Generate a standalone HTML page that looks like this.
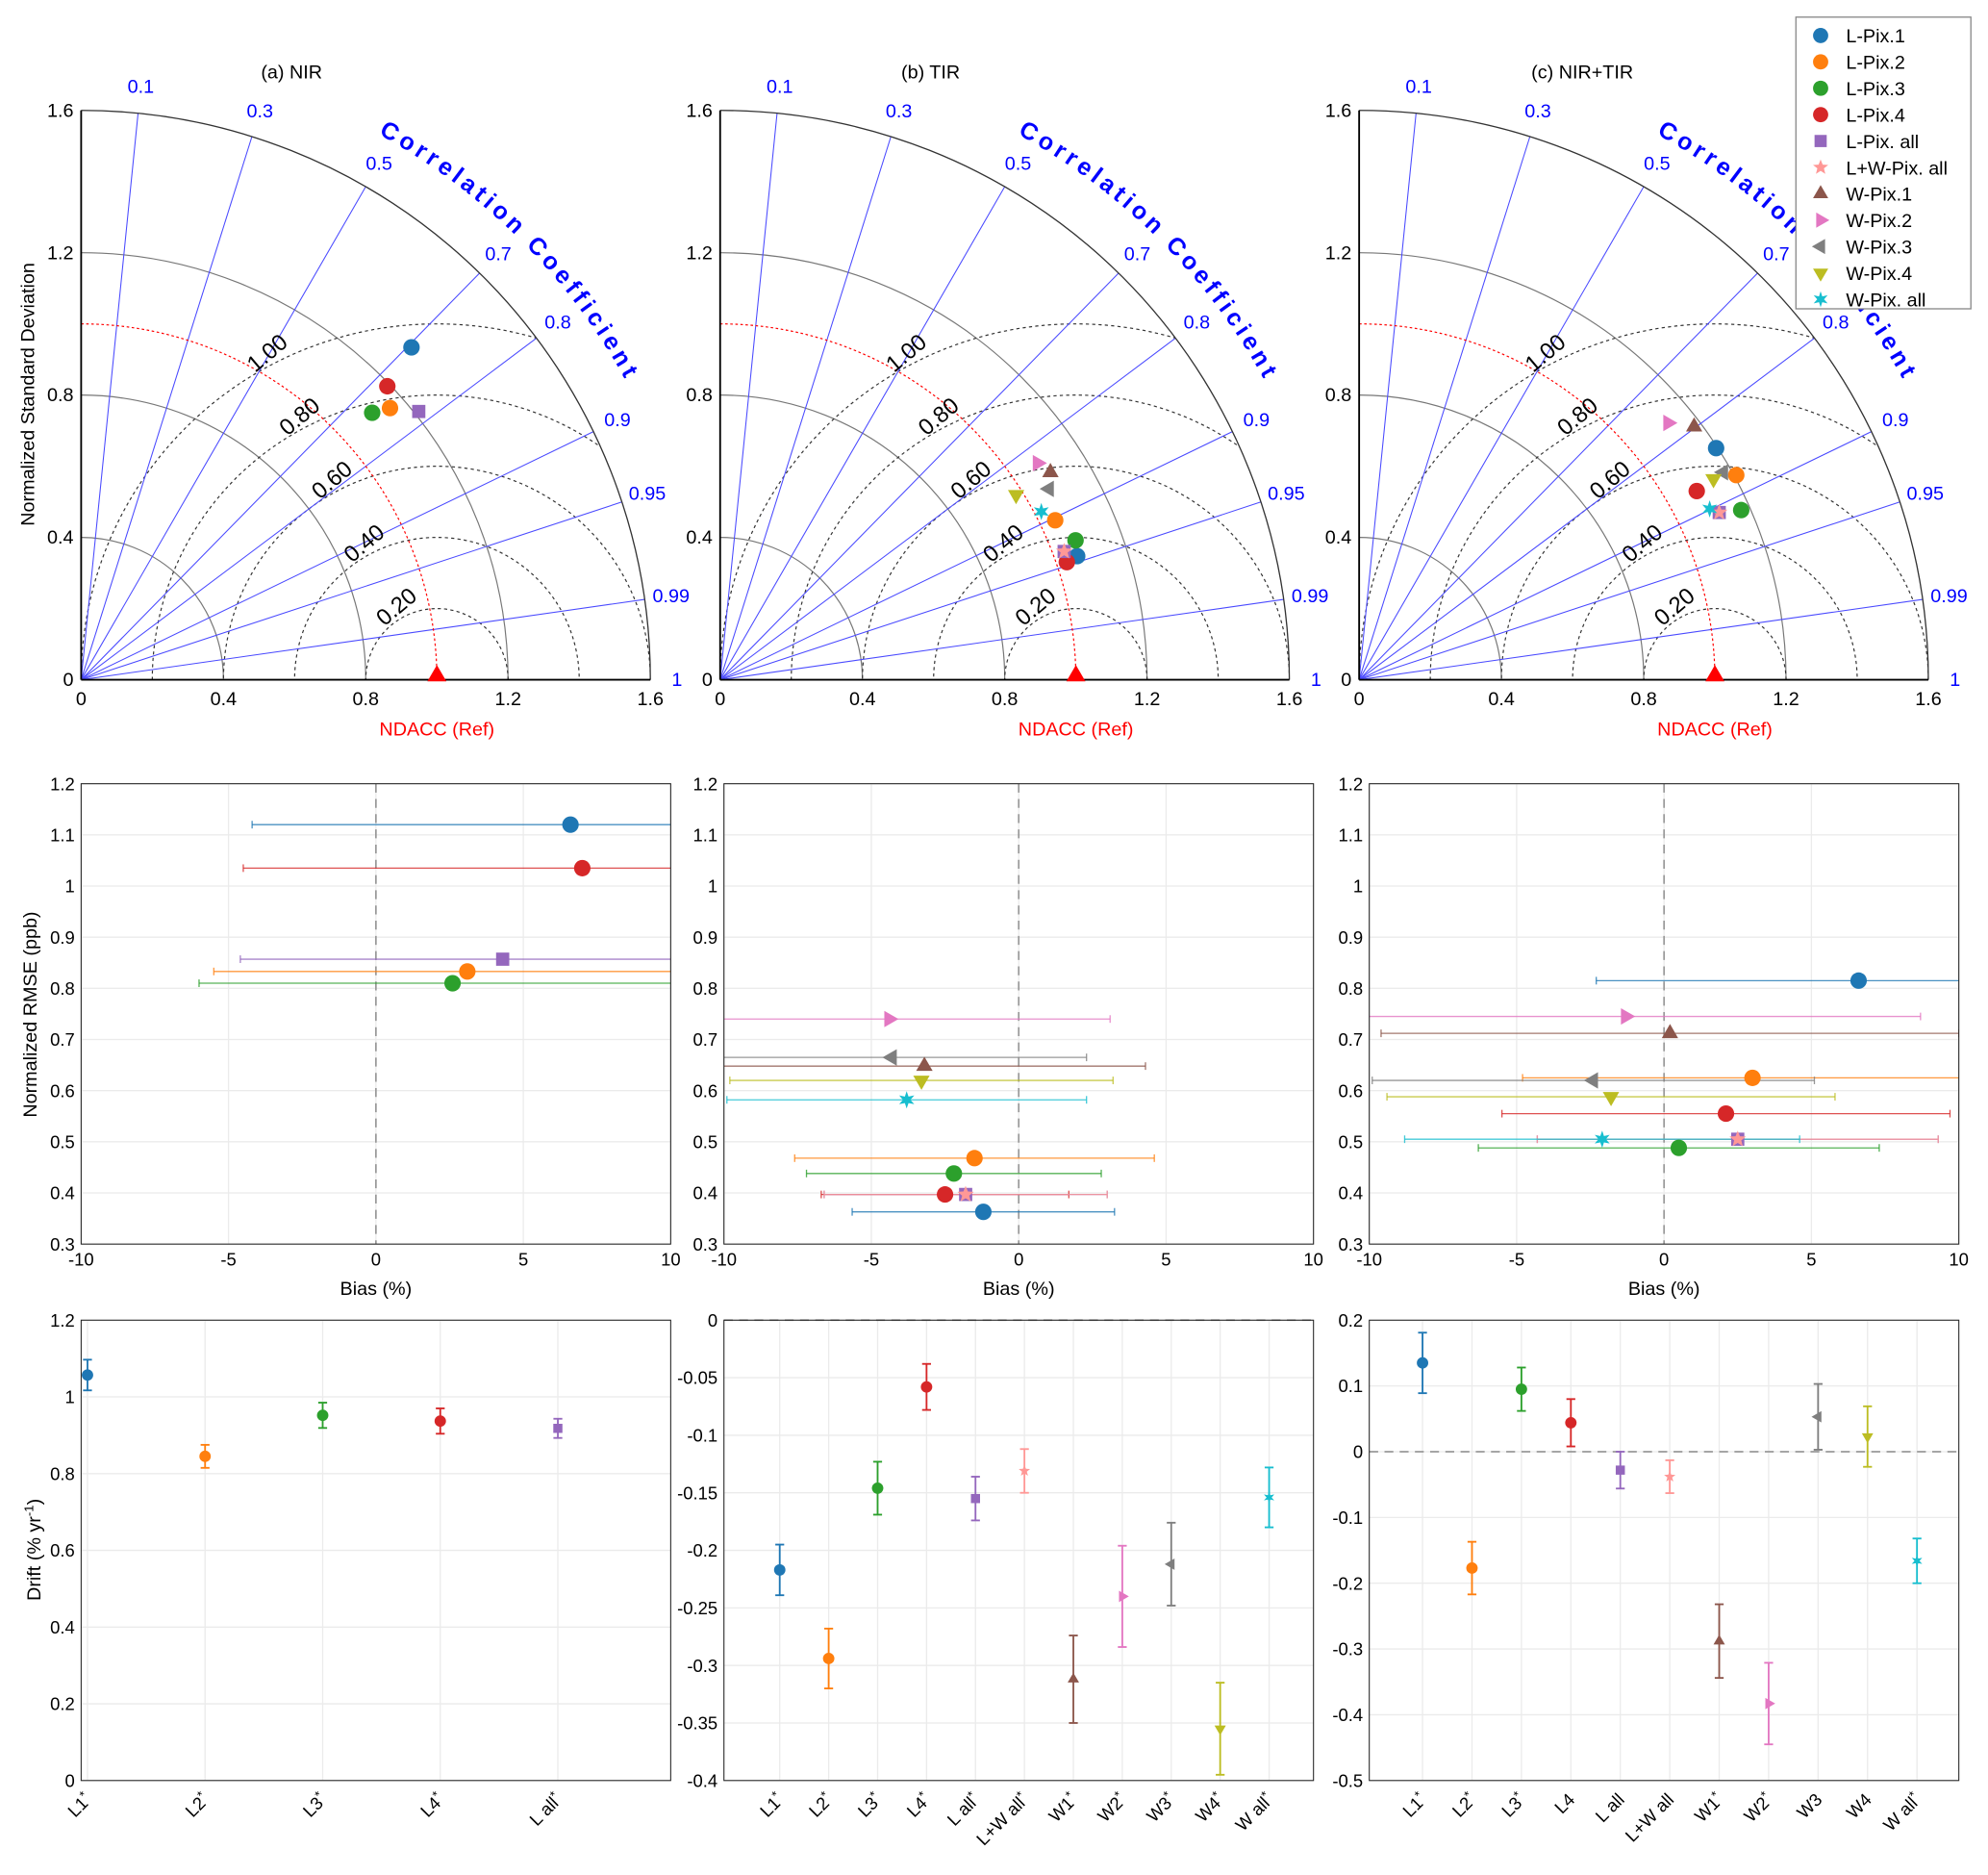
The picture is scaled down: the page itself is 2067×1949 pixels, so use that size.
<!DOCTYPE html>
<html><head><meta charset="utf-8"><style>
html,body{margin:0;padding:0;background:#fff}
svg{display:block;font-family:"Liberation Sans",sans-serif}
</style></head><body>
<svg id="fig" width="2067" height="1949" viewBox="0 0 1568 1478.5" xmlns="http://www.w3.org/2000/svg">
<defs>
<clipPath id="qa"><path d="M64,536 L64,87 A449,449 0 0 1 513,536 Z"/></clipPath>
<clipPath id="qb"><path d="M568,536 L568,87 A449,449 0 0 1 1017,536 Z"/></clipPath>
<clipPath id="qc"><path d="M1072,536 L1072,87 A449,449 0 0 1 1521,536 Z"/></clipPath>
<clipPath id="ma"><rect x="64" y="618" width="465" height="363"/></clipPath>
<clipPath id="mb"><rect x="571" y="618" width="465" height="363"/></clipPath>
<clipPath id="mc"><rect x="1080" y="618" width="465" height="363"/></clipPath>
</defs>
</svg>
<script>
const colors=["#1f77b4","#ff7f0e","#2ca02c","#d62728","#9467bd","#ff9896","#8c564b","#e377c2","#7f7f7f","#bcbd22","#17becf"];
const shapes=["circle","circle","circle","circle","square","star","up","right","left","down","hex"];
const seriesNames=["L-Pix.1","L-Pix.2","L-Pix.3","L-Pix.4","L-Pix. all","L+W-Pix. all","W-Pix.1","W-Pix.2","W-Pix.3","W-Pix.4","W-Pix. all"];
// Taylor data (std, corr)
const stdA=[1.317,1.156,1.110,1.192,1.212];
const corA=[0.705,0.751,0.737,0.722,0.783];
const stdB=[1.062,1.043,1.073,1.029,1.032,1.032,1.096,1.080,1.069,0.981,1.019];
const corB=[0.945,0.903,0.931,0.947,0.937,0.937,0.847,0.826,0.865,0.848,0.886];
const stdC=[1.196,1.206,1.175,1.087,1.116,1.116,1.180,1.129,1.178,1.145,1.096];
const corC=[0.839,0.879,0.914,0.873,0.907,0.907,0.798,0.769,0.869,0.870,0.899];
const corrLines=[0.1,0.3,0.5,0.7,0.8,0.9,0.95,0.99];
const corrLabels=[0.1,0.3,0.5,0.7,0.8,0.9,0.95,0.99,1];
const rmsLevels=[0.2,0.4,0.6,0.8,1.0];
const stdTicks=[0,0.4,0.8,1.2,1.6];
// Bias / RMSE data
const biasA=[6.6,3.1,2.6,7.0,4.3];
const rmseA=[1.12,0.833,0.81,1.035,0.857];
const errA=[10.8,8.6,8.6,11.5,8.9];
const biasB=[-1.2,-1.5,-2.2,-2.5,-1.8,-1.8,-3.2,-4.4,-4.3,-3.3,-3.8];
const rmseB=[0.363,0.468,0.438,0.397,0.397,0.397,0.648,0.74,0.665,0.62,0.582];
const errB=[4.45,6.1,5.0,4.2,4.8,4.8,7.5,7.5,6.6,6.5,6.1];
const biasC=[6.6,3.0,0.5,2.1,2.5,2.5,0.2,-1.3,-2.4,-1.8,-2.1];
const rmseC=[0.815,0.625,0.488,0.555,0.505,0.505,0.712,0.745,0.62,0.588,0.505];
const errC=[8.9,7.8,6.8,7.6,6.8,6.8,9.8,10.0,7.5,7.6,6.7];
const biasTicks=[-10,-5,0,5,10];
const rmseTicks=[0.3,0.4,0.5,0.6,0.7,0.8,0.9,1,1.1,1.2];
// Drift data
const catsA=["L1","L2","L3","L4","L all"];
const starA=[1,1,1,1,1];
const driftA=[1.057,0.845,0.952,0.937,0.918];
const dErrA=[0.04,0.03,0.033,0.033,0.025];
const catsB=["L1","L2","L3","L4","L all","L+W all","W1","W2","W3","W4","W all"];
const starB=[1,1,1,1,1,1,1,1,1,1,1];
const driftB=[-0.217,-0.294,-0.146,-0.058,-0.155,-0.131,-0.312,-0.24,-0.212,-0.355,-0.154];
const dErrB=[0.022,0.026,0.023,0.02,0.019,0.019,0.038,0.044,0.036,0.04,0.026];
const catsC=["L1","L2","L3","L4","L all","L+W all","W1","W2","W3","W4","W all"];
const starC=[1,1,1,0,0,0,1,1,0,0,1];
const driftC=[0.135,-0.177,0.095,0.044,-0.028,-0.038,-0.288,-0.383,0.053,0.023,-0.166];
const dErrC=[0.046,0.04,0.033,0.036,0.028,0.025,0.056,0.062,0.05,0.046,0.034];
const ticksDA=[0,0.2,0.4,0.6,0.8,1,1.2];
const ticksDB=[0,-0.05,-0.1,-0.15,-0.2,-0.25,-0.3,-0.35,-0.4];
const ticksDC=[0.2,0.1,0,-0.1,-0.2,-0.3,-0.4,-0.5];

const svg=document.getElementById('fig');
const NS="http://www.w3.org/2000/svg";
function mk(tag,attrs,parent,txt){const e=document.createElementNS(NS,tag);for(const k in attrs)e.setAttribute(k,attrs[k]);if(txt!==undefined)e.textContent=txt;(parent||svg).appendChild(e);return e;}
function marker(g,shape,x,y,r,c){
  let e;
  if(shape==="circle"){e=mk('circle',{cx:x,cy:y,r:r,fill:c},g);}
  else if(shape==="square"){e=mk('rect',{x:x-r*0.8,y:y-r*0.8,width:r*1.6,height:r*1.6,fill:c},g);}
  else if(shape==="star"||shape==="hex"){const n=shape==="star"?5:6;let p=[];for(let i=0;i<2*n;i++){const a=-Math.PI/2+i*Math.PI/n;const rr=i%2?r*0.45:r*1.05;p.push((x+rr*Math.cos(a)).toFixed(1)+","+(y+rr*Math.sin(a)).toFixed(1));}e=mk('polygon',{points:p.join(" "),fill:c},g);}
  else{const rot={up:-90,right:0,left:180,down:90}[shape];let p=[];for(let i=0;i<3;i++){const a=(rot+i*120)*Math.PI/180;p.push((x+r*1.15*Math.cos(a)).toFixed(1)+","+(y+r*1.15*Math.sin(a)).toFixed(1));}e=mk('polygon',{points:p.join(" "),fill:c},g);}
  return e;
}

// ---------- Taylor diagrams ----------
function taylor(ox,oy,clip,title,std,cor,name){
  const S=280.6;
  const g=mk('g',{});
  
  
  const P=(x,y)=>[ox+x*S,oy-y*S];
  const gc=mk('g',{'clip-path':'url(#'+clip+')'},g);
  [0.4,0.8,1.2].forEach(s=>{mk('path',{d:`M${ox},${oy-s*S} A${s*S},${s*S} 0 0 1 ${ox+s*S},${oy}`,fill:'none',stroke:'#777','stroke-width':0.9},gc);});
  rmsLevels.forEach(r=>{const c=P(1,0);mk('circle',{cx:c[0],cy:c[1],r:r*S,fill:'none',stroke:'#333','stroke-width':0.9,'stroke-dasharray':'2.5,2.5'},gc);});
  corrLines.forEach(cv=>{const a=Math.acos(cv);mk('line',{x1:ox,y1:oy,x2:ox+1.6*S*Math.cos(a),y2:oy-1.6*S*Math.sin(a),stroke:'#4a4aff','stroke-width':0.8},gc);});
  mk('path',{d:`M${ox},${oy-S} A${S},${S} 0 0 1 ${ox+S},${oy}`,fill:'none',stroke:'#f00','stroke-width':0.9,'stroke-dasharray':'2,2'},g);
  mk('path',{d:`M${ox},${oy-1.6*S} A${1.6*S},${1.6*S} 0 0 1 ${ox+1.6*S},${oy}`,fill:'none',stroke:'#333','stroke-width':1},g);
  mk('line',{x1:ox,y1:oy,x2:ox,y2:oy-1.6*S,stroke:'#000','stroke-width':1.4},g);
  mk('line',{x1:ox,y1:oy,x2:ox+1.6*S,y2:oy,stroke:'#000','stroke-width':1.4},g);
  stdTicks.forEach(t=>{
    const tl=mk('text',{x:ox-6,y:oy-t*S+5,'text-anchor':'end','font-size':15},g,String(t));
    
    const tx=mk('text',{x:ox+t*S,y:oy+20,'text-anchor':'middle','font-size':15},g,String(t));
    
  });
  corrLabels.forEach(cv=>{const a=Math.acos(cv);const t=mk('text',{x:ox+470*Math.cos(a),y:oy-470*Math.sin(a)+5,'text-anchor':'middle','font-size':15,fill:'#0000ff'},g,String(cv));
    });
  rmsLevels.forEach(r=>{const a=117*Math.PI/180;const x=ox+(1+(r+0.02)*Math.cos(a))*S,y=oy-(r+0.02)*Math.sin(a)*S+2;
    const t=mk('text',{x:x,y:y,'text-anchor':'middle','font-size':18,transform:`rotate(-40 ${x} ${y})`},g,r.toFixed(2));
    });
  const id='arc'+name;const R=490,a1=63*Math.PI/180,a2=27*Math.PI/180;
  mk('path',{id:id,d:`M${ox+R*Math.cos(a1)},${oy-R*Math.sin(a1)} A${R},${R} 0 0 1 ${ox+R*Math.cos(a2)},${oy-R*Math.sin(a2)}`,fill:'none'},g);
  const ct=mk('text',{'font-size':19,'font-weight':'bold',fill:'#0000ff','letter-spacing':3.3},g);
  
  mk('textPath',{href:'#'+id,startOffset:'50%','text-anchor':'middle'},ct,'Correlation Coefficient');
  const tt=mk('text',{x:ox+166+(title.length>8?10:0),y:62,'text-anchor':'middle','font-size':15},g,title);
  
  const xl=mk('text',{x:ox+S,y:580,'text-anchor':'middle','font-size':15,fill:'#f00'},g,'NDACC (Ref)');
  
  const rp=P(1,0);marker(g,'up',rp[0],rp[1]-3,7.5,'#f00');
  std.forEach((s,i)=>{const x=s*cor[i],y=s*Math.sqrt(1-cor[i]*cor[i]);const p=P(x,y);
    const m=marker(g,shapes[i],p[0],p[1],6.5,colors[i]);
    
    });
}
taylor(64,536,'qa','(a) NIR',stdA,corA,'taylor-nir');
taylor(568,536,'qb','(b) TIR',stdB,corB,'taylor-tir');
taylor(1072,536,'qc','(c) NIR+TIR',stdC,corC,'taylor-nirtir');
const yl1=mk('text',{x:27,y:311,'text-anchor':'middle','font-size':15,transform:'rotate(-90 27 311)'},svg,'Normalized Standard Deviation');


// ---------- Bias / RMSE ----------
function biasPanel(x0,clip,bias,rmse,err,name){
  const W=465,y0=618,H=363;
  const g=mk('g',{});
  
  
  const X=v=>x0+(v+10)/20*W, Y=v=>y0+H-(v-0.3)/0.9*H;
  mk('rect',{x:x0,y:y0,width:W,height:H,fill:'#fff'},g);
  biasTicks.forEach(t=>{mk('line',{x1:X(t),y1:y0,x2:X(t),y2:y0+H,stroke:'#ebebeb'},g);
    const tl=mk('text',{x:X(t),y:y0+H+17,'text-anchor':'middle','font-size':14},g,String(t));
    });
  rmseTicks.forEach(t=>{mk('line',{x1:x0,y1:Y(t),x2:x0+W,y2:Y(t),stroke:'#ebebeb'},g);
    const tl=mk('text',{x:x0-5,y:Y(t)+5,'text-anchor':'end','font-size':14},g,String(t));
    });
  mk('line',{x1:X(0),y1:y0,x2:X(0),y2:y0+H,stroke:'#999','stroke-width':1.3,'stroke-dasharray':'7,5'},g);
  const gc=mk('g',{'clip-path':'url(#'+clip+')'},g);
  bias.forEach((b,i)=>{const y=Y(rmse[i]);const c=colors[i];
    mk('line',{x1:X(b-err[i]),y1:y,x2:X(b+err[i]),y2:y,stroke:c,'stroke-width':1,opacity:0.8},gc);
    [b-err[i],b+err[i]].forEach(v=>mk('line',{x1:X(v),y1:y-3,x2:X(v),y2:y+3,stroke:c,'stroke-width':1,opacity:0.8},gc));
  });
  bias.forEach((b,i)=>{const m=marker(g,shapes[i],X(b),Y(rmse[i]),6.5,colors[i]);
    
    });
  mk('rect',{x:x0,y:y0,width:W,height:H,fill:'none',stroke:'#222','stroke-width':0.8},g);
  const xl=mk('text',{x:x0+W/2,y:1021,'text-anchor':'middle','font-size':15},g,'Bias (%)');
  
}
biasPanel(64,'ma',biasA,rmseA,errA,'bias-rmse-nir');
biasPanel(571,'mb',biasB,rmseB,errB,'bias-rmse-tir');
biasPanel(1080,'mc',biasC,rmseC,errC,'bias-rmse-nirtir');
const yl2=mk('text',{x:29,y:800,'text-anchor':'middle','font-size':15,transform:'rotate(-90 29 800)'},svg,'Normalized RMSE (ppb)');


// ---------- Drift ----------
function driftPanel(x0,xFirst,step,ymin,ymax,ticks,cats,star,drift,derr,zeroLine,idx,name){
  const W=465,y0=1041,H=363;
  const g=mk('g',{});
  
  
  const X=i=>xFirst+i*step, Y=v=>y0+H-(v-ymin)/(ymax-ymin)*H;
  cats.forEach((c,i)=>mk('line',{x1:X(i),y1:y0,x2:X(i),y2:y0+H,stroke:'#ebebeb'},g));
  ticks.forEach(t=>{mk('line',{x1:x0,y1:Y(t),x2:x0+W,y2:Y(t),stroke:'#ebebeb'},g);
    const tl=mk('text',{x:x0-5,y:Y(t)+5,'text-anchor':'end','font-size':14},g,String(t));
    });
  if(zeroLine)mk('line',{x1:x0,y1:Y(0),x2:x0+W,y2:Y(0),stroke:'#999','stroke-width':1.3,'stroke-dasharray':'7,5'},g);
  drift.forEach((d,i)=>{const k=idx[i];const c=colors[k];const x=X(i);
    mk('line',{x1:x,y1:Y(d-derr[i]),x2:x,y2:Y(d+derr[i]),stroke:c,'stroke-width':1.4},g);
    [d-derr[i],d+derr[i]].forEach(v=>mk('line',{x1:x-3.5,y1:Y(v),x2:x+3.5,y2:Y(v),stroke:c,'stroke-width':1.4},g));
    const m=marker(g,shapes[k],x,Y(d),4.5,c);
    
    
    const lx=x+4,ly=y0+H+16;
    const t=mk('text',{x:lx,y:ly,'text-anchor':'end','font-size':14,transform:`rotate(-45 ${lx} ${ly})`},g,cats[i]);
    
    if(star[i]){mk('tspan',{'font-size':10,dy:-5},t,'*');}
  });
  mk('rect',{x:x0,y:y0,width:W,height:H,fill:'none',stroke:'#222','stroke-width':0.8},g);
}
driftPanel(64,69,92.75,0,1.2,ticksDA,catsA,starA,driftA,dErrA,false,[0,1,2,3,4],'drift-nir');
driftPanel(571,615,38.6,-0.4,0,ticksDB,catsB,starB,driftB,dErrB,true,[0,1,2,3,4,5,6,7,8,9,10],'drift-tir');
driftPanel(1080,1122,39,-0.5,0.2,ticksDC,catsC,starC,driftC,dErrC,true,[0,1,2,3,4,5,6,7,8,9,10],'drift-nirtir');
const yl3=mk('text',{x:32,y:1222,'text-anchor':'middle','font-size':15,transform:'rotate(-90 32 1222)'},svg,'Drift (% yr');

mk('tspan',{'font-size':10,dy:-6},yl3,'-1');
mk('tspan',{dy:6},yl3,')');

// ---------- Legend ----------
const lg=mk('g',{});


mk('rect',{x:1416.5,y:13.5,width:138,height:230,fill:'#fff',stroke:'#888','stroke-width':1},lg);
seriesNames.forEach((n,i)=>{const y=28+i*20.8;
  marker(lg,shapes[i],1436,y,6,colors[i]);
  const t=mk('text',{x:1456,y:y+5.5,'font-size':15},lg,n);
  
  });
</script>
</body></html>
